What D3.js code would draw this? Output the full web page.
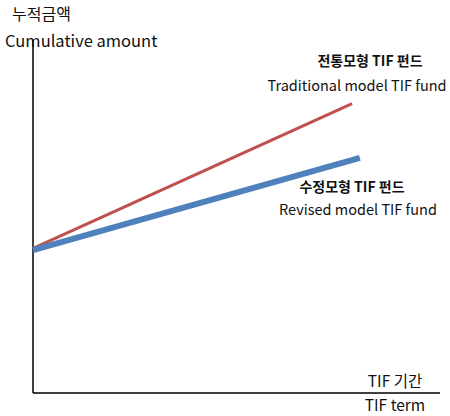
<!DOCTYPE html>
<html><head><meta charset="utf-8">
<script src="https://cdn.jsdelivr.net/npm/d3@7"></script>
<style>body{margin:0;background:#fff}text{font-family:"Noto Sans CJK KR","Noto Sans",sans-serif;fill:#111}</style>
</head><body><svg id="c" width="450" height="416"></svg>
<script>
const seriesNames = ["traditional","revised"];
const traditional = [{x:0,y:0.41},{x:0.784,y:0.82}];
const revised = [{x:0,y:0.405},{x:0.803,y:0.666}];
const labels = [
 {t:"누적금액",x:12,y:20,a:"start",w:"normal",s:16},
 {t:"Cumulative amount",x:5,y:47,a:"start",w:"normal",s:16.5},
 {t:"전통모형 TIF 펀드",x:370,y:66,a:"middle",w:"bold",s:14},
 {t:"Traditional model TIF fund",x:357,y:91,a:"middle",w:"normal",s:14.5},
 {t:"수정모형 TIF 펀드",x:352,y:192,a:"middle",w:"bold",s:14},
 {t:"Revised model TIF fund",x:358,y:215,a:"middle",w:"normal",s:14.5},
 {t:"TIF 기간",x:395,y:387,a:"middle",w:"normal",s:15.5},
 {t:"TIF term",x:395,y:411,a:"middle",w:"normal",s:15.5}
];
const svg=d3.select("#c");
const x=d3.scaleLinear().domain([0,1]).range([33,440]);
const y=d3.scaleLinear().domain([0,1]).range([393,40]);
svg.append("line").attr("x1",x(0)).attr("x2",x(0)).attr("y1",y(1)).attr("y2",y(0)).attr("stroke","#000").attr("stroke-width",1.5);
svg.append("line").attr("x1",x(0)).attr("x2",x(1)).attr("y1",y(0)).attr("y2",y(0)).attr("stroke","#000").attr("stroke-width",1.5);
const line=d3.line().x(d=>x(d.x)).y(d=>y(d.y));
svg.append("path").attr("d",line(traditional)).attr("stroke","#c0504d").attr("stroke-width",3).attr("fill","none");
svg.append("path").attr("d",line(revised)).attr("stroke","#4f81bd").attr("stroke-width",6).attr("fill","none");
svg.selectAll("text.l").data(labels).join("text").attr("class","l").attr("x",d=>d.x).attr("y",d=>d.y).attr("text-anchor",d=>d.a).attr("font-weight",d=>d.w).attr("font-size",d=>d.s).text(d=>d.t);
</script></body></html>
